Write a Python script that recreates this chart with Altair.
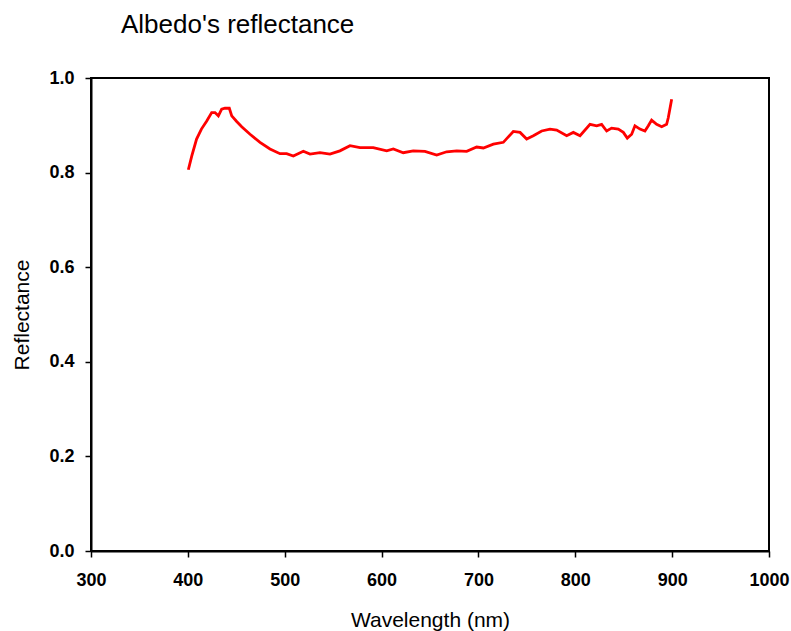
import altair as alt
import pandas as pd

wavelength = [400.5, 404, 409, 414, 419.5, 424.6, 428, 431.5, 434.9, 438.3, 442.8, 445.3,
              450.4, 455.6, 464.2, 474.5, 484.8, 495.1, 502, 508.9, 519.2, 526.1, 536.4,
              546.7, 557, 567.4, 577.7, 591.4, 605.3, 612.1, 622.4, 632.7, 644.8, 656.9,
              667.2, 677.6, 687.9, 698.2, 705.1, 715.4, 725.7, 736, 743, 749.8, 756.7,
              765.3, 773.9, 780.8, 791.1, 798, 804.9, 815.2, 822.1, 827.2, 832.4, 837.5,
              844.4, 849.6, 853.7, 858.2, 861.6, 866.8, 871.9, 875.4, 878.8, 884, 889.2,
              894.3, 896, 899.5]
reflectance = [0.806, 0.835, 0.871, 0.892, 0.909, 0.927, 0.927, 0.920, 0.934, 0.936, 0.936, 0.920,
               0.908, 0.897, 0.881, 0.864, 0.850, 0.840, 0.840, 0.835, 0.845, 0.839, 0.842,
               0.839, 0.846, 0.857, 0.853, 0.853, 0.846, 0.850, 0.842, 0.846, 0.845, 0.837,
               0.844, 0.846, 0.845, 0.854, 0.852, 0.860, 0.864, 0.887, 0.885, 0.871, 0.878,
               0.888, 0.892, 0.890, 0.878, 0.885, 0.878, 0.902, 0.899, 0.902, 0.888, 0.894,
               0.892, 0.885, 0.873, 0.881, 0.899, 0.892, 0.888, 0.899, 0.911, 0.902, 0.897,
               0.902, 0.916, 0.955]

x_ticks = [300, 400, 500, 600, 700, 800, 900, 1000]
y_ticks = [0.0, 0.2, 0.4, 0.6, 0.8, 1.0]

df = pd.DataFrame({"Wavelength": wavelength, "Reflectance": reflectance})

FONT = "Liberation Sans"

chart = alt.Chart(df).mark_line(color="#ff0000", strokeWidth=2.8).encode(
    x=alt.X("Wavelength:Q",
            scale=alt.Scale(domain=[300, 1000], nice=False, zero=False),
            axis=alt.Axis(values=x_ticks, title="Wavelength (nm)", format="d",
                          titleY=75, titleBaseline="alphabetic",
                          labelPadding=14, labelFlush=False)),
    y=alt.Y("Reflectance:Q",
            scale=alt.Scale(domain=[0, 1], nice=False),
            axis=alt.Axis(values=y_ticks, title="Reflectance", format=".1f",
                          titleX=-63, titleY=236.5, titleBaseline="alphabetic",
                          titleAlign="center", titleAngle=-90,
                          labelPadding=11, labelFlush=False)),
).properties(
    width=678,
    height=473,
    title=alt.TitleParams("Albedo's reflectance", anchor="start", frame="group",
                          dx=30, offset=10, fontSize=26, fontWeight="normal",
                          font=FONT, color="black", baseline="alphabetic"),
    autosize=alt.AutoSizeParams(type="none"),
    padding={"left": 91, "top": 78, "right": 22, "bottom": 80},
).configure_view(
    stroke="black", strokeWidth=2
).configure_axis(
    grid=False,
    domainColor="black", domainWidth=2,
    tickColor="black", tickWidth=1.5, tickSize=6,
    labelFont=FONT, labelFontSize=18, labelFontWeight="bold", labelColor="black",
    titleFont=FONT, titleFontSize=21, titleFontWeight="normal", titleColor="black",
)

chart.save("out.html", embed_options={"renderer": "svg", "actions": False})
